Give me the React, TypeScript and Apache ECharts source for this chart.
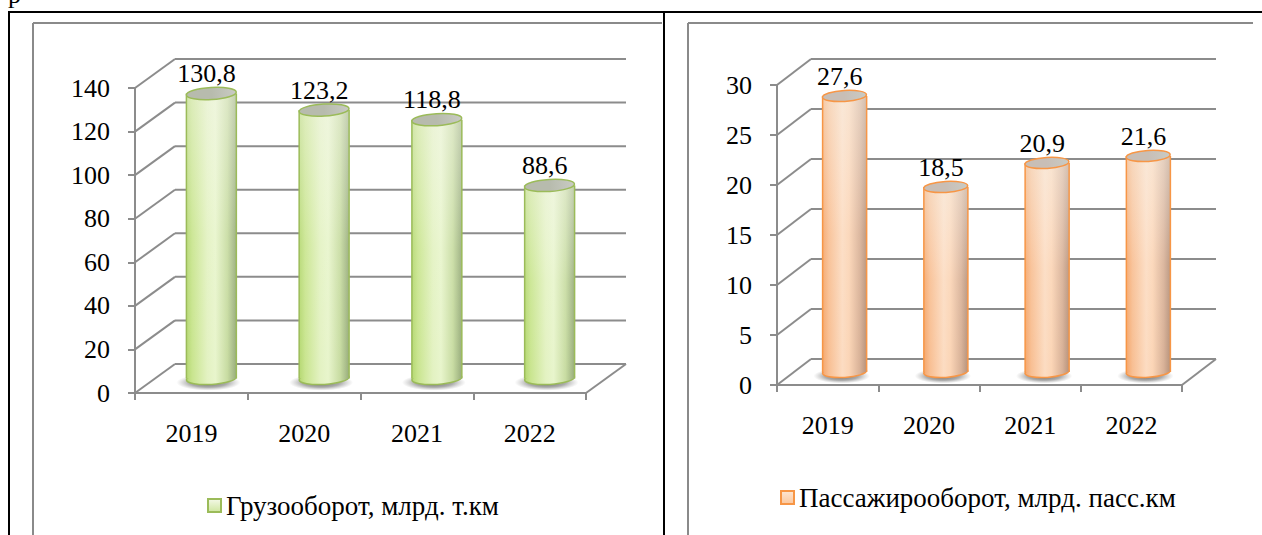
import React, { useEffect, useRef } from "react";
import * as echarts from "echarts";

const years = ["2019", "2020", "2021", "2022"];
const freight = [130.8, 123.2, 118.8, 88.6];
const passenger = [27.6, 18.5, 20.9, 21.6];
const freightTicks = [0, 20, 40, 60, 80, 100, 120, 140];
const passengerTicks = [0, 5, 10, 15, 20, 25, 30];
const freightName = "Грузооборот, млрд. т.км";
const passengerName = "Пассажирооборот, млрд. пасс.км";

const FONT = "Liberation Serif";
const GRID_COLOR = "#8c8c8c";
const FS = 26;
const LFS = 27;

const fmt = (v: number) => v.toFixed(1).replace(".", ",");

const green = {
  body: [
    { offset: 0, color: "#b5d872" },
    { offset: 0.12, color: "#c9e58f" },
    { offset: 0.42, color: "#e3f2c2" },
    { offset: 0.58, color: "#e8f5cc" },
    { offset: 0.82, color: "#c8dca2" },
    { offset: 1, color: "#98ac7c" },
  ],
  top: "#b7bbad",
  border: "#9bbb59",
  legendFill: ["#f4f9e8", "#cfe6a0"],
};
const orange = {
  body: [
    { offset: 0, color: "#f5a76c" },
    { offset: 0.14, color: "#f8bf93" },
    { offset: 0.45, color: "#fcdcc2" },
    { offset: 0.6, color: "#fbd5b6" },
    { offset: 0.85, color: "#d8b197" },
    { offset: 1, color: "#b6927b" },
  ],
  top: "#c8beb6",
  border: "#f79646",
  legendFill: ["#fde6d3", "#fbc79d"],
};

const cfgs = [
  {
    grid: { left: 135, top: 88, width: 451, height: 305 },
    max: 140,
    interval: 20,
    ticks: freightTicks,
    data: freight,
    name: freightName,
    dx: 40,
    dy: -29,
    ratio: 0.443,
    ry: 6,
    pal: green,
    legend: { left: 207, top: 492 },
  },
  {
    grid: { left: 777, top: 85, width: 405, height: 300 },
    max: 30,
    interval: 5,
    ticks: passengerTicks,
    data: passenger,
    name: passengerName,
    dx: 34,
    dy: -26,
    ratio: 0.435,
    ry: 5.5,
    pal: orange,
    legend: { left: 780, top: 484 },
  },
];

function buildOption() {
  const grids: any[] = [];
  const xAxes: any[] = [];
  const yAxes: any[] = [];
  const series: any[] = [];
  const legends: any[] = [];
  const lineStyle = { color: GRID_COLOR, width: 2 };

  cfgs.forEach((c, gi) => {
    grids.push({ ...c.grid, containLabel: false });
    xAxes.push({
      type: "category",
      gridIndex: gi,
      data: years,
      boundaryGap: true,
      axisLine: { show: true, lineStyle },
      axisTick: { show: true, length: 7, lineStyle },
      axisLabel: { fontSize: FS, fontFamily: FONT, color: "#000", margin: 27 },
      splitLine: { show: false },
    });
    yAxes.push({
      type: "value",
      gridIndex: gi,
      min: 0,
      max: c.max,
      interval: c.interval,
      axisLine: { show: true, lineStyle },
      axisTick: { show: true, length: 7, lineStyle },
      axisLabel: { fontSize: FS, fontFamily: FONT, color: "#000", margin: 25 },
      splitLine: { show: false },
    });

    // back wall + floor
    series.push({
      type: "custom",
      xAxisIndex: gi,
      yAxisIndex: gi,
      clip: false,
      silent: true,
      z: 1,
      data: c.ticks.map((t) => [0, t]),
      encode: { x: 0, y: 1 },
      renderItem: (params: any, api: any) => {
        const v = api.value(1);
        const cs = params.coordSys;
        const y = api.coord([0, v])[1];
        const st = { stroke: GRID_COLOR, lineWidth: 2 };
        const children: any[] = [
          { type: "line", shape: { x1: cs.x, y1: y, x2: cs.x + c.dx, y2: y + c.dy }, style: st },
          {
            type: "line",
            shape: { x1: cs.x + c.dx, y1: y + c.dy, x2: cs.x + cs.width + c.dx, y2: y + c.dy },
            style: st,
          },
        ];
        if (v === 0) {
          children.push({
            type: "line",
            shape: { x1: cs.x + cs.width, y1: y, x2: cs.x + cs.width + c.dx, y2: y + c.dy },
            style: st,
          });
        }
        return { type: "group", children };
      },
    });

    // cylinders
    series.push({
      type: "custom",
      name: c.name,
      xAxisIndex: gi,
      yAxisIndex: gi,
      clip: false,
      z: 5,
      itemStyle: { color: c.pal.border },
      data: c.data.map((v, i) => [i, v]),
      encode: { x: 0, y: 1 },
      renderItem: (params: any, api: any) => {
        const idx = api.value(0);
        const v = api.value(1);
        const top = api.coord([idx, v]);
        const base = api.coord([idx, 0]);
        const bw = api.size([1, 0])[0];
        const w = bw * c.ratio;
        const rx = w / 2;
        const cx = top[0] + c.dx / 2;
        const ty = top[1] + c.dy / 2;
        const by = base[1] + c.dy / 2;
        const ry = c.ry;
        const rot = 0.06;
        const bodyFill = new echarts.graphic.LinearGradient(0, 0, 1, 0, c.pal.body);
        return {
          type: "group",
          children: [
            {
              type: "ellipse",
              shape: { cx: cx - 3, cy: by + 4, rx: rx * 1.28, ry: ry * 1.35 },
              style: {
                fill: new echarts.graphic.RadialGradient(0.5, 0.5, 0.5, [
                  { offset: 0, color: "rgba(60,60,60,0.8)" },
                  { offset: 0.6, color: "rgba(90,90,90,0.5)" },
                  { offset: 1, color: "rgba(130,130,130,0)" },
                ]),
              },
            },
            {
              type: "ellipse",
              shape: { cx, cy: by, rx, ry },
              rotation: rot,
              originX: cx,
              originY: by,
              style: { fill: bodyFill, stroke: c.pal.border, lineWidth: 1.5 },
            },
            {
              type: "rect",
              shape: { x: cx - rx, y: ty, width: w, height: by - ty },
              style: { fill: bodyFill },
            },
            {
              type: "rect",
              shape: { x: cx - rx, y: ty, width: w, height: by - ty },
              style: {
                fill: new echarts.graphic.LinearGradient(0, 0, 0, 1, [
                  { offset: 0, color: "rgba(245,245,240,0.45)" },
                  { offset: 0.5, color: "rgba(255,255,255,0.08)" },
                  { offset: 1, color: "rgba(255,255,255,0)" },
                ]),
              },
            },
            {
              type: "line",
              shape: { x1: cx - rx, y1: ty, x2: cx - rx, y2: by },
              style: { stroke: c.pal.border, lineWidth: 1.5 },
            },
            {
              type: "line",
              shape: { x1: cx + rx, y1: ty, x2: cx + rx, y2: by },
              style: { stroke: c.pal.border, lineWidth: 1.5 },
            },
            {
              type: "ellipse",
              shape: { cx, cy: ty, rx, ry },
              rotation: rot,
              originX: cx,
              originY: ty,
              style: {
                fill: new echarts.graphic.LinearGradient(0, 0, 1, 0, [
                  { offset: 0, color: c.pal.top },
                  { offset: 0.5, color: c.pal.top },
                  { offset: 1, color: "#c9cbc4" },
                ]),
                stroke: c.pal.border,
                lineWidth: 1.5,
              },
            },
            {
              type: "text",
              x: cx - 5,
              y: ty - 20,
              style: {
                text: fmt(v),
                fontSize: FS,
                fontFamily: FONT,
                fill: "#000",
                align: "center",
                verticalAlign: "middle",
              },
            },
          ],
        };
      },
    });

    legends.push({
      left: c.legend.left,
      top: c.legend.top,
      padding: 0,
      selectedMode: false,
      itemWidth: 13,
      itemHeight: 13,
      textStyle: { fontSize: LFS, fontFamily: FONT, color: "#000" },
      data: [
        {
          name: c.name,
          icon: "rect",
          itemStyle: {
            color: new echarts.graphic.LinearGradient(0, 0, 0, 1, [
              { offset: 0, color: c.pal.legendFill[0] },
              { offset: 1, color: c.pal.legendFill[1] },
            ]),
            borderColor: c.pal.border,
            borderWidth: 2,
          },
        },
      ],
    });
  });

  const black = { stroke: "#000", lineWidth: 2 };
  const gray = { stroke: "#8a8a8a", lineWidth: 2 };
  const graphic: any[] = [
    { type: "line", shape: { x1: 8, y1: 12, x2: 1262, y2: 12 }, style: black },
    { type: "line", shape: { x1: 9, y1: 12, x2: 9, y2: 535 }, style: black },
    { type: "line", shape: { x1: 664, y1: 12, x2: 664, y2: 535 }, style: black },
    { type: "line", shape: { x1: 33, y1: 23, x2: 662, y2: 23 }, style: gray },
    { type: "line", shape: { x1: 33, y1: 23, x2: 33, y2: 535 }, style: gray },
    { type: "line", shape: { x1: 688, y1: 23, x2: 1253, y2: 23 }, style: gray },
    { type: "line", shape: { x1: 688, y1: 23, x2: 688, y2: 535 }, style: gray },
    {
      type: "text",
      x: 8,
      y: -6,
      style: { text: "р", fontSize: FS, fontFamily: FONT, fill: "#000", verticalAlign: "middle" },
    },
  ];

  return {
    animation: false,
    backgroundColor: "#fff",
    grid: grids,
    xAxis: xAxes,
    yAxis: yAxes,
    series,
    legend: legends,
    graphic,
  };
}

export default function App() {
  const ref = useRef<HTMLDivElement>(null);
  useEffect(() => {
    if (!ref.current) return;
    const chart = echarts.init(ref.current, undefined, { renderer: "svg" });
    chart.setOption(buildOption());
    return () => chart.dispose();
  }, []);
  return (
    <div
      ref={ref}
      style={{ position: "fixed", left: 0, top: 0, width: 1262, height: 535, background: "#fff" }}
    />
  );
}
